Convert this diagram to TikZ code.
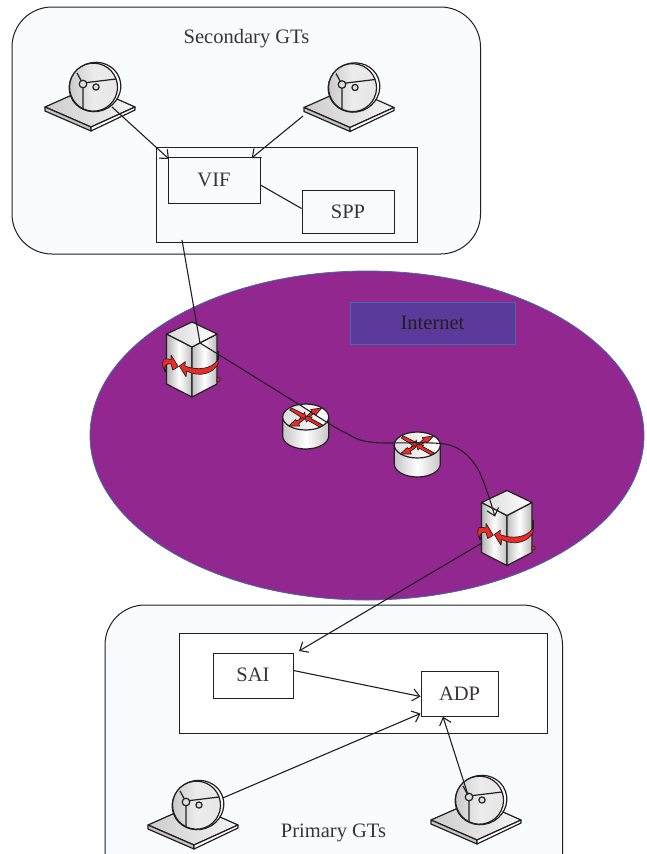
\documentclass[tikz,border=0pt]{standalone}
\usepackage{fontspec}
\setmainfont{Liberation Serif}
\usetikzlibrary{arrows.meta,calc}
\definecolor{panel}{HTML}{F9FBFD}
\definecolor{cloud}{HTML}{92278F}
\definecolor{cloudedge}{HTML}{3F6FA8}
\definecolor{netbox}{HTML}{5B3A9C}
\definecolor{ink}{HTML}{231F20}
\definecolor{redarrow}{HTML}{EE2A24}
\tikzset{
  x=1pt,y=-1pt,
  panelbox/.style={draw=ink,line width=1pt,fill=panel,rounded corners=40pt},
  plainbox/.style={draw=ink,line width=1pt},
  labelbox/.style={draw=ink,line width=1pt,inner sep=0pt,font=\fontsize{20.5}{22}\selectfont,text=ink!90},
  caption/.style={font=\fontsize{20.5}{22}\selectfont,text=ink!90,inner sep=0pt},
  link/.style={draw=ink,line width=1.1pt},
  arrowlink/.style={link,-{Straight Barb[length=7pt,width=12pt,line width=1.1pt]}},
  iconline/.style={draw=ink,line width=1.2pt,line join=round},
  redmark/.style={draw=ink,line width=0.7pt,fill=redarrow,line join=round},
  dish/.pic={
    \path[iconline,left color=gray!40,right color=gray!8] (-45,0) -- (0,-20) -- (45,0) -- (1,20) -- cycle;
    \path[iconline,fill=gray!45] (-45,0) -- (1,20) -- (1,24) -- (-45,4) -- cycle;
    \path[iconline,fill=white] (1,20) -- (45,0) -- (45,3) -- (1,24) -- cycle;
    \path[iconline,fill=white,rotate around={20:(5,-20)}] (5,-20) ellipse[x radius=26pt,y radius=24.5pt];
    \path[iconline,left color=gray!45,right color=gray!20,middle color=gray!15,rotate around={20:(4,-20)}] (3.5,-20) ellipse[x radius=24pt,y radius=24pt];
    \draw[iconline] (-7,-23) -- (-13,-34) (-7,-23) -- (-7,2) (-7,-24) -- (26,-28);
    \path[iconline,fill=gray!25] (-7,-23) circle[radius=3.8pt];
    \path[iconline,fill=gray!25] (6,-20) circle[radius=3.1pt];
  },
  tower/.pic={
    \path[iconline,left color=gray!60,right color=gray!50,middle color=white] (-25.5,-26) -- (0,-13) -- (0,37) -- (-25.5,24) -- cycle;
    \path[iconline,left color=gray!50,right color=gray!55,middle color=white] (0,-13) -- (25,-26) -- (25,24) -- (0,37) -- cycle;
    \path[iconline,left color=gray!30,right color=white] (0,-38) -- (25,-26) -- (0,-13) -- (-25.5,-26) -- cycle;
    \draw[ink,line width=2pt] (25.5,-9) -- (25.5,0);
    \path[redmark] (-28,9.3) .. controls (-30,4) and (-30,1) .. (-28,-1) .. controls (-26,-1.5) and (-23,-1) .. (-21,-0.5) -- (-21,-5) -- (-13.7,6.7) -- (-19.3,10) -- (-21,4) .. controls (-24,3) and (-26,4) .. (-28,9.3) -- cycle;
    \path[redmark] (-12.7,6) -- (-6.7,1.7) -- (-7,6) .. controls (5,11) and (20,9) .. (25.7,0) -- (26.3,3.3) .. controls (22,13) and (8,18) .. (-5.3,11) -- (-6,16.7) -- cycle;
    \path[redmark] (25,17.5) -- (28,18) -- (28,21) -- (25,21.5) -- cycle;
    \path[redmark] (-28,9) -- (-26.5,9) -- (-26.5,11) -- (-28,11) -- cycle;
  },
  router/.pic={
    \path[iconline,left color=gray!45,right color=gray!45,middle color=white] (-23,0) -- (-23,19) arc[start angle=180,end angle=360,x radius=23pt,y radius=13pt] -- (23,0) -- cycle;
    \path[iconline,left color=gray!25,right color=white] (0,0) ellipse[x radius=23pt,y radius=13pt];
    \draw[iconline,line width=0.7pt] (-15,-9) -- (15,7) (15,-8) -- (-15,8);
    \path[redmark] (-14,-9) -- (-2,-3) -- (-1,-5) -- (0,1) -- (-6,2) -- (-5,0) -- (-16,-7) -- cycle;
    \path[redmark] (16,-9) -- (5,-7.5) -- (6,-5.5) -- (1,-1) -- (3,0.5) -- (8,-3.5) -- (10,-2) -- cycle;
    \path[redmark] (-17,9) -- (-6,9) -- (-7,6.5) -- (-1,2) -- (-3,0.5) -- (-9,4) -- (-10,2.5) -- cycle;
    \path[redmark] (17,8) -- (5,1.5) -- (6.5,0) -- (-0.5,-0.5) -- (0.5,5) -- (2.5,3.5) -- (14,10) -- cycle;
  }
}
\begin{document}
\begin{tikzpicture}
\useasboundingbox (0,0) rectangle (647,854);
\begin{scope}
\clip (0,0) rectangle (647,854);
% panels
\path[panelbox] (12,7) rectangle (480.5,254);
\path[panelbox] (105,605) rectangle (562.5,900);
\node[caption] (sec) at (246.5,39) {Secondary GTs};
\node[caption] (pri) at (333.5,833) {Primary GTs};
% secondary group
\node[plainbox,minimum width=261pt,minimum height=95pt,inner sep=0pt] (secgrp) at (286.5,194.5) {};
\node[labelbox,minimum width=92pt,minimum height=46pt] (vif) at (214,180) {VIF};
\node[labelbox,minimum width=92pt,minimum height=43pt] (spp) at (348,211.5) {SPP};
% cloud
\path[draw=cloudedge,line width=0.8pt,fill=cloud] (367,435.5) ellipse[x radius=277pt,y radius=164.5pt];
\node[draw=cloudedge,line width=0.8pt,fill=netbox,minimum width=165pt,minimum height=42pt,inner sep=0pt,font=\fontsize{20.5}{22}\selectfont,text=ink] (inet) at (432.5,323) {\raisebox{1pt}{Internet}};
% primary group
\node[plainbox,fill=white,minimum width=368pt,minimum height=100pt,inner sep=0pt] (prigrp) at (363,683) {};
\node[labelbox,fill=white,minimum width=80pt,minimum height=45pt] (sai) at (253,675.5) {\raisebox{2pt}{SAI}};
\node[labelbox,fill=white,minimum width=77pt,minimum height=45pt] (adp) at (459.5,693.5) {ADP};
% icons
\pic at (90,107) {dish};
\pic at (349,107.5) {dish};
\pic at (193,825) {dish};
\pic at (476,820) {dish};
\pic at (192,360) {tower};
\pic at (507,528.5) {tower};
\pic at (305.7,417) {router};
\pic at (417.3,445) {router};
% connector ends
\coordinate (d1) at (112,107);
\coordinate (d2) at (303,116);
\coordinate (d3) at (222.7,798);
\coordinate (d4) at (468,795);
\coordinate (v1) at (169,159);
\coordinate (v2) at (251.7,158);
\coordinate (g1) at (182,240);
\coordinate (t1) at (200,343);
\coordinate (t2a) at (495,516.7);
\coordinate (t2b) at (482,543);
\coordinate (s1) at (299,651);
\coordinate (a1) at (443,716.7);
% connectors
\draw[arrowlink] (d1) -- (v1);
\draw[arrowlink] (d2) -- (v2);
\draw[link] ($(vif.east)+(0,5)$) -- ($(spp.west)+(0,-3)$);
\draw[link] (g1) -- (t1);
\draw[arrowlink] (t1) -- (300,405) .. controls (320,418) and (335,428) .. (348,434)
  .. controls (358,441) and (370,443) .. (385,443)
  .. controls (405,443) and (430,442) .. (445,444)
  .. controls (462,447) and (472,458) .. (480,473)
  .. controls (487,490) and (491,503) .. (t2a);
\draw[arrowlink] (t2b) -- (s1);
\draw[arrowlink] ($(sai.east)+(0,-5)$) -- ($(adp.west)+(0,3)$);
\draw[arrowlink] (d3) -- ($(adp.south west)+(0,-3)$);
\draw[arrowlink] (d4) -- (a1);
\end{scope}
\end{tikzpicture}
\end{document}
